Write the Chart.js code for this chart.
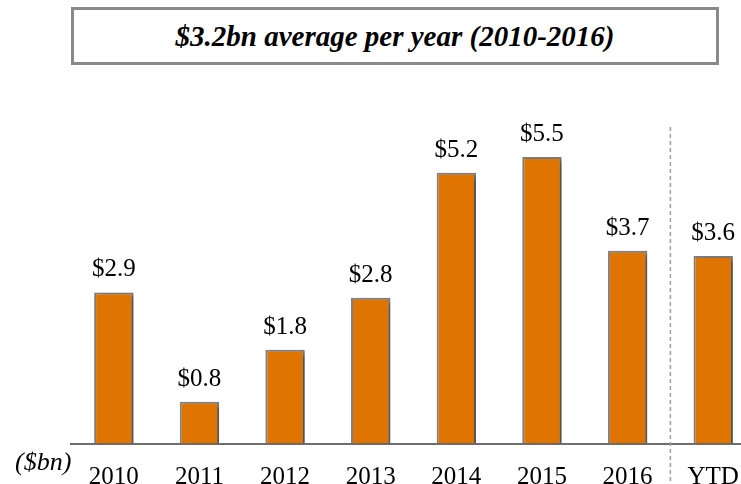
<!DOCTYPE html>
<html>
<head>
<meta charset="utf-8">
<script src="https://cdn.jsdelivr.net/npm/chart.js@4.4.1/dist/chart.umd.min.js"></script>
<style>
  html, body { margin: 0; padding: 0; width: 741px; height: 484px; overflow: hidden; background: #fff; }
  #wrap { position: absolute; left: 0; top: 0; width: 760px; height: 484px; }
  #titleBox {
    position: absolute; left: 71px; top: 7px; width: 642px; height: 51px; padding-top: 1px;
    border: 3px solid #8a8a8a; background: #fff;
    font: italic bold 29px "Liberation Serif", "Times New Roman", serif;
    text-align: center; line-height: 51px; color: #000;
  }
</style>
</head>
<body>
<div id="wrap"><canvas id="dealChart" width="760" height="484"></canvas></div>
<div id="titleBox">$3.2bn average per year (2010-2016)</div>
<script>
const years = ['2010', '2011', '2012', '2013', '2014', '2015', '2016', 'YTD'];
const values = [2.9, 0.8, 1.8, 2.8, 5.2, 5.5, 3.7, 3.6];
const valueLabels = ['$2.9', '$0.8', '$1.8', '$2.8', '$5.2', '$5.5', '$3.7', '$3.6'];
const unitLabel = '($bn)';

const serif = '"Liberation Serif", "Times New Roman", serif';

const barShadow = {
    id: 'barShadow',
    beforeDatasetsDraw(chart) {
        let ctx = chart.ctx;
        ctx.save();
        ctx.shadowColor = 'rgba(0,0,0,0.4)';
        ctx.shadowBlur = 5;
        ctx.shadowOffsetX = 4;
        ctx.shadowOffsetY = 2;
    },
    afterDatasetsDraw(chart) {
        chart.ctx.restore();
    }
};

const extras = {
    id: 'extras',
    afterDraw(chart) {
        let ctx = chart.ctx;
        let x = chart.scales.x;
        let meta = chart.getDatasetMeta(0);
        ctx.save();
        // value labels above bars
        ctx.font = '25px ' + serif;
        ctx.fillStyle = '#000';
        ctx.textAlign = 'center';
        ctx.textBaseline = 'alphabetic';
        meta.data.forEach(function(bar, i) {
            ctx.fillText(valueLabels[i], bar.x, bar.y - 16);
        });
        // dashed separator before YTD
        let sepX = (x.getPixelForValue(6) + x.getPixelForValue(7)) / 2;
        ctx.strokeStyle = '#a0a0a0';
        ctx.lineWidth = 1.5;
        ctx.setLineDash([4, 3]);
        ctx.beginPath();
        ctx.moveTo(sepX, 127);
        ctx.lineTo(sepX, 484);
        ctx.stroke();
        ctx.setLineDash([]);
        // unit label
        ctx.font = 'italic 26px ' + serif;
        ctx.textAlign = 'left';
        ctx.fillText(unitLabel, 15, 470);
        ctx.restore();
    }
};

let ctx = document.getElementById('dealChart').getContext('2d');

new Chart(ctx, {
    type: 'bar',
    data: {
        labels: years,
        datasets: [{
            data: values,
            backgroundColor: '#df7500',
            borderColor: '#808080',
            borderWidth: 2,
            barPercentage: 0.46,
            categoryPercentage: 1
        }]
    },
    options: {
        responsive: false,
        animation: false,
        layout: {
            padding: { top: 105, left: 71, right: 4, bottom: 0 }
        },
        plugins: {
            legend: { display: false },
            tooltip: { enabled: false }
        },
        scales: {
            x: {
                grid: { display: false },
                border: { display: true, color: '#6e6e6e', width: 2 },
                ticks: {
                    color: '#000',
                    font: { family: serif, size: 25 },
                    padding: 11,
                    maxRotation: 0
                },
                afterFit: function(scale) { scale.height = 40.5; }
            },
            y: {
                display: false,
                min: 0,
                max: 6.5
            }
        }
    },
    plugins: [barShadow, extras]
});
</script>
</body>
</html>
